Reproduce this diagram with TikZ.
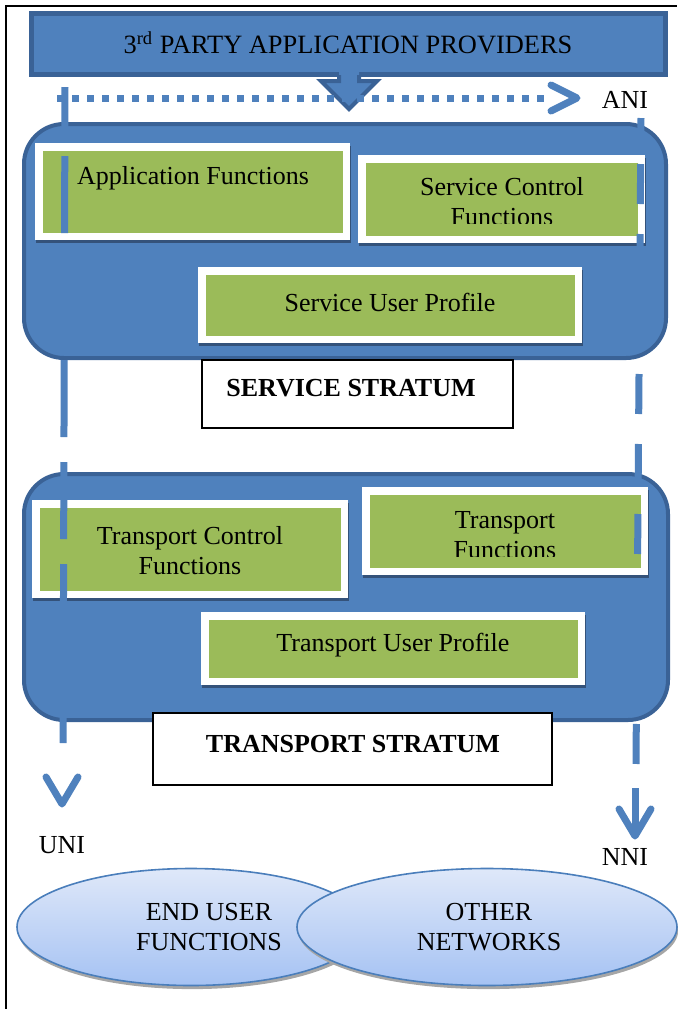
\documentclass[tikz,border=0pt]{standalone}
\usepackage{fontspec}
\setmainfont{Liberation Serif}
\usetikzlibrary{shapes.geometric,shadows}

\definecolor{fillblue}{HTML}{4F81BD}
\definecolor{edgeblue}{HTML}{3A6296}
\definecolor{funcgreen}{HTML}{9BBB59}
\definecolor{shadeblue}{HTML}{34527A}
\definecolor{elltop}{HTML}{DFE8F9}
\definecolor{ellbot}{HTML}{A5C2F3}
\definecolor{elledge}{HTML}{4A7EBB}

\begin{document}
\begin{tikzpicture}[x=0.5pt,y=-0.5pt,
  every node/.style={font=\fontsize{13}{15}\selectfont, inner sep=0pt, align=center},
  banner/.style={draw=edgeblue, fill=fillblue, line width=2.5pt},
  stratum/.style={draw=edgeblue, fill=fillblue, line width=2pt, rounded corners=20pt},
  funcbox/.style={draw=white, fill=funcgreen, line width=3.75pt,
    drop shadow={opacity=1, fill=shadeblue, draw=shadeblue, line width=3.75pt,
      shadow xshift=0.6pt, shadow yshift=-1.6pt}},
  labelbox/.style={draw=black, fill=white, line width=0.6pt},
  flowline/.style={draw=fillblue, line width=3.5pt},
  chevron/.style={draw=fillblue, line width=3.5pt, line cap=round, line join=round},
  netell/.style={ellipse, draw=elledge, line width=0.8pt, top color=elltop, bottom color=ellbot,
    drop shadow={opacity=1, fill=black!35, shadow xshift=0.6pt, shadow yshift=-1.8pt}},
]
\useasboundingbox (0,0) rectangle (677,1009);

% page frame
\coordinate (frameBL) at (6,1009);
\coordinate (frameTL) at (6,6);
\coordinate (frameTR) at (677,6);
\draw[line width=1pt] (frameBL) -- (frameTL) -- (frameTR);

% provider banner
\node[banner, minimum width=317pt, minimum height=30.5pt] (prov) at (348.5,44) {};
\node (provtext) at (348,43) {\fontsize{13.2}{15}\selectfont 3\textsuperscript{rd} PARTY APPLICATION PROVIDERS};

% block arrow below the banner
\fill[fillblue] (339,72) -- (339,81) -- (321,81) -- (349,109) -- (377,81) -- (359,81) -- (359,72) -- cycle;
\draw[edgeblue, line width=2pt, line join=miter] (339,75) -- (339,81) -- (321,81) -- (349,109) -- (377,81) -- (359,81) -- (359,75);

% service stratum
\node[stratum, minimum width=321pt, minimum height=117pt] (svc) at (345,241) {};
\node[funcbox, minimum width=153.75pt, minimum height=44.75pt] (app) at (192.5,191.5) {};
\node (apptext) at (193,178) {Application Functions};
\node[funcbox, minimum width=139.75pt, minimum height=40.25pt] (sctl) at (501.5,199) {};
\begin{scope}
  \clip (367,162) rectangle (638,223.5);
  \node (sctltext) at (502,202) {Service Control\\Functions};
\end{scope}
\node[funcbox, minimum width=188.25pt, minimum height=34.25pt] (sup) at (390,305) {};
\node (suptext) at (390,302) {Service User Profile};
\node[labelbox, minimum width=155.5pt, minimum height=34pt] (svclabel) at (357.5,394) {};
\node (svclabeltext) at (351,388) {\bfseries SERVICE STRATUM};

% transport stratum
\node[stratum, minimum width=322pt, minimum height=123pt] (trn) at (346,597) {};
\node[funcbox, minimum width=154.25pt, minimum height=45.25pt] (tcf) at (190,549) {};
\node (tcftext) at (190,551) {Transport Control\\Functions};
\node[funcbox, minimum width=139.25pt, minimum height=40.25pt] (tf) at (505,531) {};
\begin{scope}
  \clip (370,494) rectangle (641,556.5);
  \node (tftext) at (505,535) {Transport\\Functions};
\end{scope}
\node[funcbox, minimum width=188.25pt, minimum height=32.75pt] (tup) at (393,648.5) {};
\node (tuptext) at (393,645) {Transport User Profile};
\node[labelbox, minimum width=199.5pt, minimum height=36pt] (trnlabel) at (352.5,749) {};
\node (trnlabeltext) at (353,744) {\bfseries TRANSPORT STRATUM};

% end user and network domains
\node[netell, minimum width=174pt, minimum height=58.5pt] (enduser) at (191,927) {};
\node (endusertext) at (209,927) {END USER\\FUNCTIONS};
\node[netell, minimum width=190pt, minimum height=58.5pt] (othernet) at (487,927) {};
\node (othernettext) at (489,927) {OTHER\\NETWORKS};

% ANI: dotted flow from the providers
\coordinate (aniStart) at (57,98);
\coordinate (aniEnd) at (546,98);
\draw[flowline, dash pattern=on 3.5pt off 4pt] (aniStart) -- (aniEnd);
\coordinate (aniA) at (551,85);
\coordinate (aniTip) at (577,98);
\coordinate (aniB) at (551,111);
\draw[chevron] (aniA) -- (aniTip) -- (aniB);
\node (ani) at (625,100) {ANI};

% UNI: dashed flow down the left side
\coordinate (uniTop) at (65,87);
\coordinate (uniEnd) at (63,765);
\draw[flowline, dash pattern=on 38.5pt off 12.5pt, dash phase=16.5pt] (uniTop) -- (uniEnd);
\coordinate (uniA) at (46,777);
\coordinate (uniTip) at (62,804);
\coordinate (uniB) at (78,777);
\draw[chevron] (uniA) -- (uniTip) -- (uniB);
\node (uni) at (62,845) {UNI};

% NNI: dashed flow down the right side
\coordinate (nniTop) at (641,118);
\coordinate (nniEnd) at (636,764);
\draw[flowline, dash pattern=on 20pt off 15pt, dash phase=12pt] (nniTop) -- (nniEnd);
\coordinate (nniS) at (635,788);
\coordinate (nniTip) at (635,836);
\draw[flowline] (nniS) -- (nniTip);
\coordinate (nniA) at (619,809);
\coordinate (nniB) at (651,809);
\draw[chevron] (nniA) -- (nniTip) -- (nniB);
\node (nni) at (625,857) {NNI};
\end{tikzpicture}
\end{document}
